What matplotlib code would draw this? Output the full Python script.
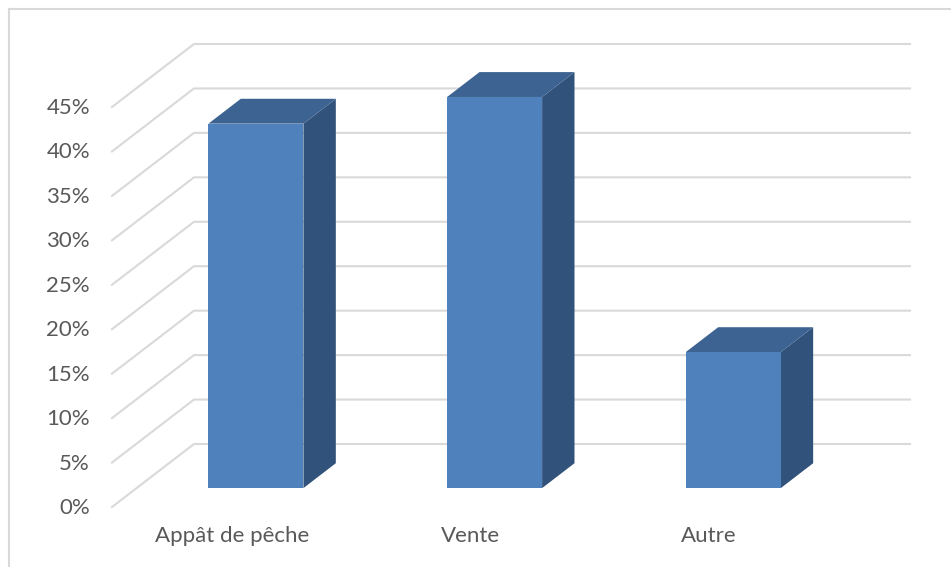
import matplotlib
import matplotlib.pyplot as plt
from matplotlib.patches import Polygon

matplotlib.use("Agg")

categories = ["Appât de pêche", "Vente", "Autre"]
values = [41, 44, 15.3]
ticks = [0, 5, 10, 15, 20, 25, 30, 35, 40, 45]

GRID = "#d9d9d9"
TEXT = "#595959"
FRONT = "#4f81bd"
TOP = "#3c6391"
SIDE = "#31527a"

# pixel scale of the sheared 3D box
CAT_PX = 238.67
PCT_PX = 8.889
DEPTH_X = 82 / CAT_PX
DEPTH_Y = 63 / PCT_PX
BAR_W = 0.398
BAR_NEAR = 0.3
BAR_FAR = 0.695


def proj(x, y, depth=0.0):
    return x + depth * DEPTH_X, y + depth * DEPTH_Y


fig = plt.figure(figsize=(9.51, 5.67), dpi=100, facecolor="white")
ax = fig.add_axes((0, 0, 1, 1))
ax.set_axis_off()
ax.set_xlim(-0.5 - 112 / CAT_PX, -0.5 + (951 - 112) / CAT_PX)
ax.set_ylim(-60 / PCT_PX, 507 / PCT_PX)

# gridlines: side wall then back wall
x_left, x_right = -0.5, len(categories) - 0.5
for t in ticks:
    pts = [proj(x_left, t, 0), proj(x_left, t, 1), proj(x_right, t, 1)]
    ax.plot(*zip(*pts), color=GRID, lw=1.5, solid_joinstyle="miter", zorder=1)
    ax.text(x_left - 22 / CAT_PX, t - 1 / PCT_PX, f"{t}%", ha="right", va="center",
            family="Lato", fontsize=16, color=TEXT)

for i, (name, v) in enumerate(zip(categories, values)):
    x0, x1 = i - BAR_W / 2, i + BAR_W / 2
    a, b = BAR_NEAR, BAR_FAR
    side = [proj(x1, 0, a), proj(x1, 0, b), proj(x1, v, b), proj(x1, v, a)]
    top = [proj(x0, v, a), proj(x1, v, a), proj(x1, v, b), proj(x0, v, b)]
    front = [proj(x0, 0, a), proj(x1, 0, a), proj(x1, v, a), proj(x0, v, a)]
    ax.add_patch(Polygon(side, fc=SIDE, ec="none", zorder=3))
    ax.add_patch(Polygon(top, fc=TOP, ec="none", zorder=3))
    ax.add_patch(Polygon(front, fc=FRONT, ec="none", zorder=4))

# category labels, left aligned offsets as in the source
label_x = [155, 441, 681]
for name, px in zip(categories, label_x):
    ax.text(-0.5 + (px - 112) / CAT_PX, (507 - 536) / PCT_PX, name, ha="left", va="center",
            family="Lato", fontsize=16, color=TEXT)

# chart frame, clipped by the screenshot on the right and bottom
ax.plot([-0.5 + (9 - 112) / CAT_PX] * 2, [-60 / PCT_PX, (507 - 8.5) / PCT_PX], color=GRID, lw=1.5)
ax.plot([-0.5 + (9 - 112) / CAT_PX, -0.5 + (951 - 112) / CAT_PX], [(507 - 8.5) / PCT_PX] * 2, color=GRID, lw=1.5)

fig.savefig("out.png", dpi=100)
plt.close(fig)
